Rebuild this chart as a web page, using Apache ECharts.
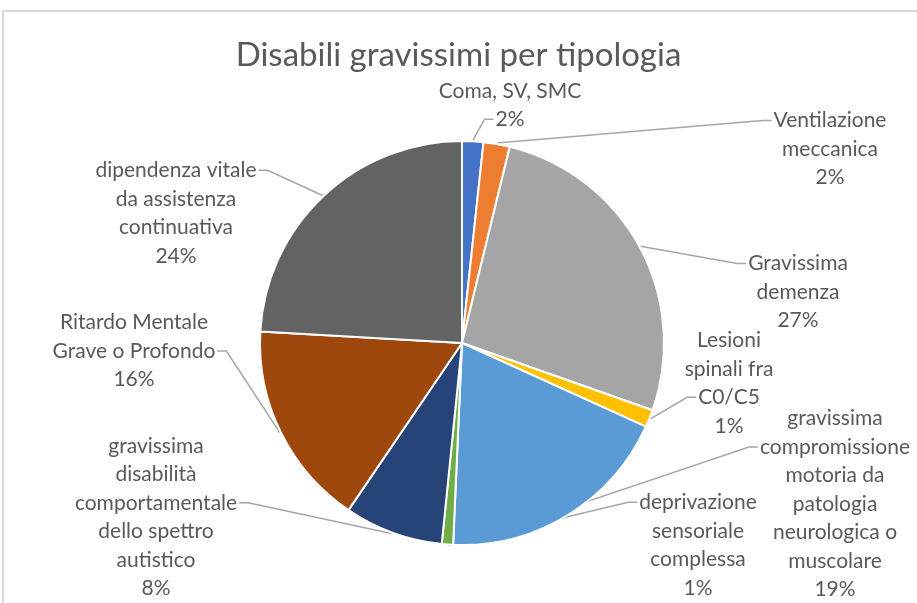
<!DOCTYPE html>
<html>
<head>
<meta charset="utf-8">
<script src="https://cdn.jsdelivr.net/npm/echarts@6/dist/echarts.min.js"></script>
<style>
  html, body { margin: 0; padding: 0; background: #fff; }
  #chart { width: 917px; height: 603px; }
</style>
</head>
<body>
<div id="chart"></div>
<script>
// categories and shares (%)
const categories = [
    'Coma, SV, SMC',
    'Ventilazione\nmeccanica',
    'Gravissima\ndemenza',
    'Lesioni\nspinali fra\nC0/C5',
    'gravissima\ncompromissione\nmotoria da\npatologia\nneurologica o\nmuscolare',
    'deprivazione\nsensoriale\ncomplessa',
    'gravissima\ndisabilità\ncomportamentale\ndello spettro\nautistico',
    'Ritardo Mentale\nGrave o Profondo',
    'dipendenza vitale\nda assistenza\ncontinuativa'
];
const shares = [1.7, 2.1, 26.6, 1.4, 18.9, 0.9, 7.9, 16.4, 24.1];
const colors = ['#4472C4', '#ED7D31', '#A5A5A5', '#FFC000', '#5B9BD5',
    '#70AD47', '#264478', '#9E480E', '#636363'];

// layout only: centre of each label block, which text line / side the leader joins,
// and where along its slice the leader starts (0..1)
const labelPos = [
    [510, 105], [830, 149], [798, 292], [729, 383], [835, 504],
    [698, 545], [156, 517], [134, 351], [176, 213]
];
const leaderJoin = [
    [1, 'left'], [0, 'left'], [0, 'left'], [2, 'left'], [1, 'left'],
    [0, 'left'], [2, 'right'], [1, 'right'], [0, 'right']
];
const leaderFrac = [0.5, 0.5, 0.5, 0.5, 0.99, 0.5, 0.5, 0.5, 0.5];

const CENTER = [462, 343];
const RADIUS = 202;
const FONT = 'Lato';
const FONT_SIZE = 21;
const LINE_H = 28.5;

const total = shares.reduce((a, b) => a + b, 0);
const startShare = shares.map((s, i) => shares.slice(0, i).reduce((a, b) => a + b, 0));

const measureCtx = document.createElement('canvas').getContext('2d');
measureCtx.font = FONT_SIZE + 'px ' + FONT;

const chart = echarts.init(document.getElementById('chart'));

chart.setOption({
    animation: false,
    backgroundColor: '#fff',
    color: colors,
    title: {
        text: 'Disabili gravissimi per tipologia',
        left: 'center',
        top: 34,
        textStyle: {
            fontFamily: FONT,
            fontSize: 33,
            fontWeight: 'normal',
            color: '#595959'
        }
    },
    graphic: [{
        type: 'rect',
        shape: { x: 3, y: 11, width: 940, height: 620 },
        style: { fill: 'none', stroke: '#D9D9D9', lineWidth: 2 },
        silent: true
    }],
    series: [{
        type: 'pie',
        center: CENTER,
        radius: RADIUS,
        startAngle: 90,
        clockwise: true,
        percentPrecision: 0,
        itemStyle: { borderColor: '#fff', borderWidth: 2 },
        label: {
            show: true,
            position: 'outside',
            formatter: '{b}\n{d}%',
            fontFamily: FONT,
            fontSize: FONT_SIZE,
            lineHeight: LINE_H,
            align: 'center',
            color: '#595959'
        },
        labelLine: {
            show: true,
            length: 20,
            length2: 20,
            lineStyle: { color: '#A6A6A6', width: 1.5 }
        },
        labelLayout: function (params) {
            const i = params.dataIndex;
            const p = labelPos[i];
            const lines = (params.text || '').split('\n');
            const join = leaderJoin[i];
            const w = measureCtx.measureText(lines[join[0]] || '').width;
            const ly = p[1] - lines.length * LINE_H / 2 + LINE_H * (join[0] + 0.5);
            const dir = join[1] === 'left' ? -1 : 1;
            const ex = p[0] + dir * (w / 2 + 2);
            // leader start on the rim of the slice
            const ang = (startShare[i] + shares[i] * leaderFrac[i]) / total * Math.PI * 2;
            const a = [CENTER[0] + (RADIUS + 1) * Math.sin(ang), CENTER[1] - (RADIUS + 1) * Math.cos(ang)];
            return {
                x: p[0], y: p[1], align: 'center', verticalAlign: 'middle',
                labelLinePoints: [a, [ex + dir * 9, ly], [ex, ly]]
            };
        },
        data: categories.map((c, i) => ({ name: c, value: shares[i] }))
    }]
});
</script>
</body>
</html>
